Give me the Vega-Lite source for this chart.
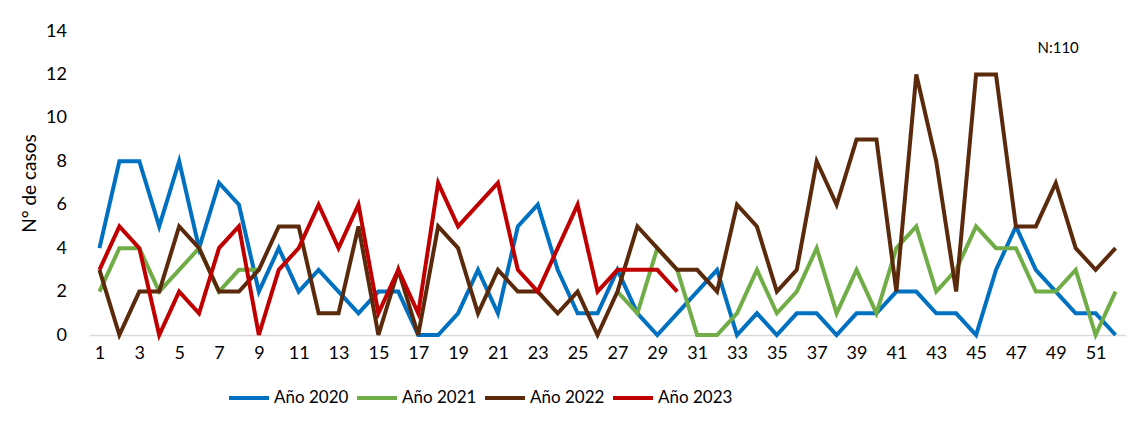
{
  "$schema": "https://vega.github.io/schema/vega-lite/v6.json",
  "width": 1036,
  "height": 304,
  "autosize": {"type": "none"},
  "padding": {"left": 89.5, "top": 31, "right": 6.5, "bottom": 90},
  "background": "white",
  "config": {
    "font": "Lato",
    "view": {"stroke": null}
  },
  "data": {
    "values": [
      {"semana": 1, "Año 2020": 4, "Año 2021": 2, "Año 2022": 3, "Año 2023": 3},
      {"semana": 2, "Año 2020": 8, "Año 2021": 4, "Año 2022": 0, "Año 2023": 5},
      {"semana": 3, "Año 2020": 8, "Año 2021": 4, "Año 2022": 2, "Año 2023": 4},
      {"semana": 4, "Año 2020": 5, "Año 2021": 2, "Año 2022": 2, "Año 2023": 0},
      {"semana": 5, "Año 2020": 8, "Año 2021": 3, "Año 2022": 5, "Año 2023": 2},
      {"semana": 6, "Año 2020": 4, "Año 2021": 4, "Año 2022": 4, "Año 2023": 1},
      {"semana": 7, "Año 2020": 7, "Año 2021": 2, "Año 2022": 2, "Año 2023": 4},
      {"semana": 8, "Año 2020": 6, "Año 2021": 3, "Año 2022": 2, "Año 2023": 5},
      {"semana": 9, "Año 2020": 2, "Año 2021": 3, "Año 2022": 3, "Año 2023": 0},
      {"semana": 10, "Año 2020": 4, "Año 2021": null, "Año 2022": 5, "Año 2023": 3},
      {"semana": 11, "Año 2020": 2, "Año 2021": null, "Año 2022": 5, "Año 2023": 4},
      {"semana": 12, "Año 2020": 3, "Año 2021": null, "Año 2022": 1, "Año 2023": 6},
      {"semana": 13, "Año 2020": 2, "Año 2021": null, "Año 2022": 1, "Año 2023": 4},
      {"semana": 14, "Año 2020": 1, "Año 2021": null, "Año 2022": 5, "Año 2023": 6},
      {"semana": 15, "Año 2020": 2, "Año 2021": null, "Año 2022": 0, "Año 2023": 1},
      {"semana": 16, "Año 2020": 2, "Año 2021": null, "Año 2022": 3, "Año 2023": 3},
      {"semana": 17, "Año 2020": 0, "Año 2021": null, "Año 2022": 0, "Año 2023": 1},
      {"semana": 18, "Año 2020": 0, "Año 2021": null, "Año 2022": 5, "Año 2023": 7},
      {"semana": 19, "Año 2020": 1, "Año 2021": null, "Año 2022": 4, "Año 2023": 5},
      {"semana": 20, "Año 2020": 3, "Año 2021": null, "Año 2022": 1, "Año 2023": 6},
      {"semana": 21, "Año 2020": 1, "Año 2021": null, "Año 2022": 3, "Año 2023": 7},
      {"semana": 22, "Año 2020": 5, "Año 2021": null, "Año 2022": 2, "Año 2023": 3},
      {"semana": 23, "Año 2020": 6, "Año 2021": null, "Año 2022": 2, "Año 2023": 2},
      {"semana": 24, "Año 2020": 3, "Año 2021": null, "Año 2022": 1, "Año 2023": 4},
      {"semana": 25, "Año 2020": 1, "Año 2021": null, "Año 2022": 2, "Año 2023": 6},
      {"semana": 26, "Año 2020": 1, "Año 2021": null, "Año 2022": 0, "Año 2023": 2},
      {"semana": 27, "Año 2020": 3, "Año 2021": 2, "Año 2022": 2, "Año 2023": 3},
      {"semana": 28, "Año 2020": 1, "Año 2021": 1, "Año 2022": 5, "Año 2023": 3},
      {"semana": 29, "Año 2020": 0, "Año 2021": 4, "Año 2022": 4, "Año 2023": 3},
      {"semana": 30, "Año 2020": 1, "Año 2021": 3, "Año 2022": 3, "Año 2023": 2},
      {"semana": 31, "Año 2020": 2, "Año 2021": 0, "Año 2022": 3, "Año 2023": null},
      {"semana": 32, "Año 2020": 3, "Año 2021": 0, "Año 2022": 2, "Año 2023": null},
      {"semana": 33, "Año 2020": 0, "Año 2021": 1, "Año 2022": 6, "Año 2023": null},
      {"semana": 34, "Año 2020": 1, "Año 2021": 3, "Año 2022": 5, "Año 2023": null},
      {"semana": 35, "Año 2020": 0, "Año 2021": 1, "Año 2022": 2, "Año 2023": null},
      {"semana": 36, "Año 2020": 1, "Año 2021": 2, "Año 2022": 3, "Año 2023": null},
      {"semana": 37, "Año 2020": 1, "Año 2021": 4, "Año 2022": 8, "Año 2023": null},
      {"semana": 38, "Año 2020": 0, "Año 2021": 1, "Año 2022": 6, "Año 2023": null},
      {"semana": 39, "Año 2020": 1, "Año 2021": 3, "Año 2022": 9, "Año 2023": null},
      {"semana": 40, "Año 2020": 1, "Año 2021": 1, "Año 2022": 9, "Año 2023": null},
      {"semana": 41, "Año 2020": 2, "Año 2021": 4, "Año 2022": 2, "Año 2023": null},
      {"semana": 42, "Año 2020": 2, "Año 2021": 5, "Año 2022": 12, "Año 2023": null},
      {"semana": 43, "Año 2020": 1, "Año 2021": 2, "Año 2022": 8, "Año 2023": null},
      {"semana": 44, "Año 2020": 1, "Año 2021": 3, "Año 2022": 2, "Año 2023": null},
      {"semana": 45, "Año 2020": 0, "Año 2021": 5, "Año 2022": 12, "Año 2023": null},
      {"semana": 46, "Año 2020": 3, "Año 2021": 4, "Año 2022": 12, "Año 2023": null},
      {"semana": 47, "Año 2020": 5, "Año 2021": 4, "Año 2022": 5, "Año 2023": null},
      {"semana": 48, "Año 2020": 3, "Año 2021": 2, "Año 2022": 5, "Año 2023": null},
      {"semana": 49, "Año 2020": 2, "Año 2021": 2, "Año 2022": 7, "Año 2023": null},
      {"semana": 50, "Año 2020": 1, "Año 2021": 3, "Año 2022": 4, "Año 2023": null},
      {"semana": 51, "Año 2020": 1, "Año 2021": 0, "Año 2022": 3, "Año 2023": null},
      {"semana": 52, "Año 2020": 0, "Año 2021": 2, "Año 2022": 4, "Año 2023": null}
    ]
  },
  "layer": [
    {
      "transform": [
        {"fold": ["Año 2020", "Año 2021", "Año 2022", "Año 2023"], "as": ["serie", "casos"]}
      ],
      "mark": {"type": "line", "strokeWidth": 4, "strokeJoin": "miter", "invalid": "break-paths-filter-domains", "clip": false},
      "encoding": {
        "x": {
          "field": "semana",
          "type": "quantitative",
          "scale": {"domain": [0.5, 52.5], "nice": false, "zero": false},
          "axis": {
            "title": null,
            "values": [1, 3, 5, 7, 9, 11, 13, 15, 17, 19, 21, 23, 25, 27, 29, 31, 33, 35, 37, 39, 41, 43, 45, 47, 49, 51],
            "ticks": false,
            "grid": false,
            "domainColor": "#D9D9D9",
            "domainWidth": 1.5,
            "labelFontSize": 18,
            "labelColor": "#000000",
            "labelPadding": 9,
            "labelFont": "Lato"
          }
        },
        "y": {
          "field": "casos",
          "type": "quantitative",
          "scale": {"domain": [0, 14], "nice": false},
          "axis": {
            "title": "N° de casos",
            "values": [0, 2, 4, 6, 8, 10, 12, 14],
            "domain": false,
            "ticks": false,
            "grid": false,
            "labelFontSize": 18,
            "labelColor": "#000000",
            "labelPadding": 23,
            "titleFontSize": 19,
            "titleFontWeight": "normal",
            "titleColor": "#000000",
            "titlePadding": 6,
            "labelFont": "Lato",
            "titleFont": "Lato"
          }
        },
        "color": {
          "field": "serie",
          "type": "nominal",
          "scale": {
            "domain": ["Año 2020", "Año 2021", "Año 2022", "Año 2023"],
            "range": ["#0070C0", "#70AD47", "#5B2A0C", "#C00000"]
          },
          "legend": {
            "title": null,
            "orient": "none",
            "direction": "horizontal",
            "legendX": 137.5,
            "legendY": 345,
            "symbolType": "stroke",
            "symbolSize": 1600,
            "symbolStrokeWidth": 4,
            "labelFontSize": 17,
            "labelColor": "#000000",
            "labelOffset": 3,
            "columnPadding": 0,
            "labelFont": "Lato"
          }
        }
      }
    },
    {
      "data": {"values": [{"etiqueta": "N:110"}]},
      "mark": {"type": "text", "fontSize": 15, "font": "Lato", "color": "#000000", "align": "center", "baseline": "middle"},
      "encoding": {
        "text": {"field": "etiqueta", "type": "nominal"},
        "x": {"datum": 49.12, "type": "quantitative"},
        "y": {"datum": 13.22, "type": "quantitative"}
      }
    }
  ]
}
